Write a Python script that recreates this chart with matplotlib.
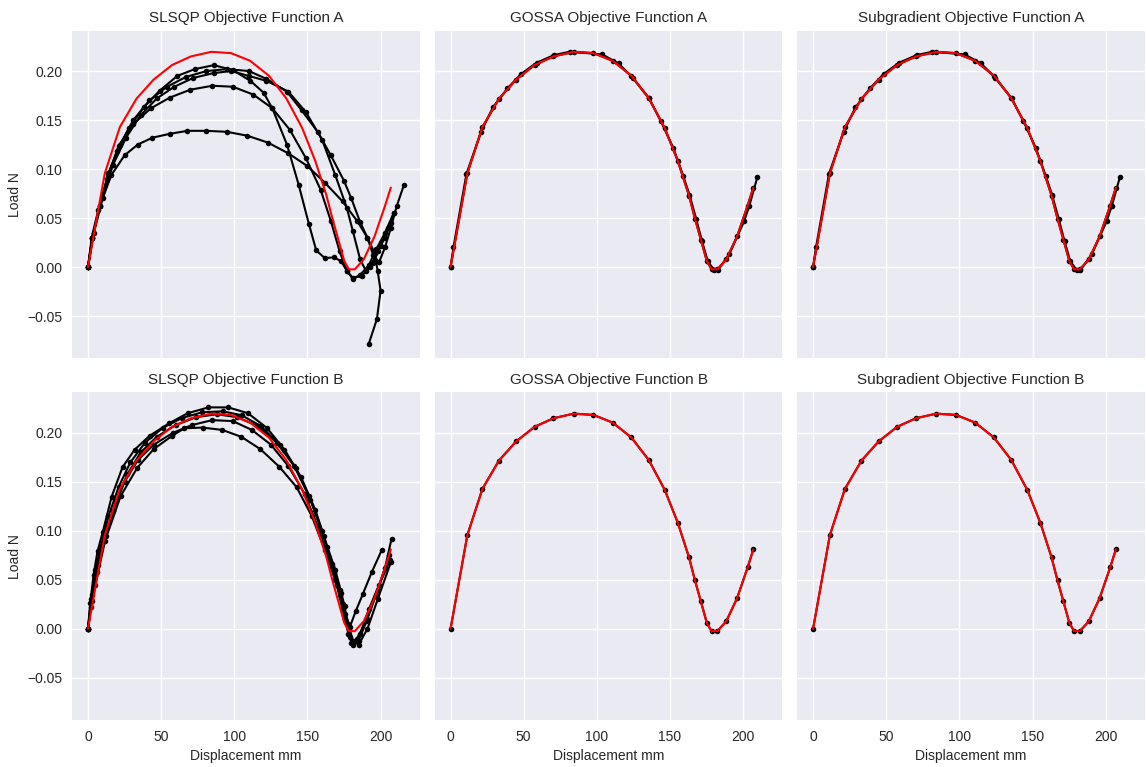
import numpy as np
import matplotlib
matplotlib.use("Agg")
import matplotlib.pyplot as plt

plt.style.use("seaborn-v0_8")

# target load-displacement curve (red)
ref_x = [0, 11.5, 21.8, 33.1, 44.8, 57.4, 70.3, 84.2, 97.7, 110.8, 123.6, 135.5,
         146.4, 155.4, 163.0, 167.1, 171.1, 175.2, 178.4, 182.4, 188.5, 195.9, 203.1, 207.0]
ref_y = [0, 0.0957, 0.1429, 0.1717, 0.1912, 0.2061, 0.2149, 0.2196, 0.2183, 0.2105, 0.1953, 0.1723,
         0.1419, 0.1081, 0.0730, 0.0494, 0.0281, 0.0061, -0.0023, -0.0023, 0.0078, 0.0314, 0.0628, 0.0811]

# SLSQP, objective function A
slsqp_a_x = [
    [0, 2.5, 7, 13, 20, 28, 38, 49, 61, 73, 86, 99, 111, 120, 126, 136, 144, 151, 156, 162,
     168, 173, 177, 181, 186, 192, 197, 203, 209],
    [0, 3, 8, 14, 22, 31, 42, 54, 67, 81, 95, 110, 122, 136, 146, 157, 166, 175, 180, 186,
     191, 195, 199, 203, 207, 211, 216],
    [0, 4, 10, 17, 26, 36, 47, 59, 72, 86, 98, 110, 122, 137, 149, 160, 169, 177, 181, 186,
     190, 195, 200, 205, 209],
    [0, 3, 8, 14, 21, 31, 43, 56, 70, 85, 99, 113, 126, 138, 149, 159, 166, 172, 177, 181,
     187, 193, 198, 203, 207],
    [0, 3, 8, 16, 25, 34, 44, 56, 68, 81, 95, 109, 123, 137, 150, 162, 174, 184, 191, 196,
     198, 200, 197.5, 192],
]
slsqp_a_y = [
    [0, 0.03, 0.058, 0.09, 0.118, 0.142, 0.163, 0.18, 0.195, 0.202, 0.206, 0.201, 0.19, 0.178,
     0.162, 0.125, 0.084, 0.044, 0.017, 0.009, 0.010, 0.006, -0.004, -0.012, -0.008, 0.002,
     0.018, 0.035, 0.055],
    [0, 0.03, 0.062, 0.096, 0.125, 0.15, 0.17, 0.184, 0.194, 0.2, 0.202, 0.2, 0.192, 0.179,
     0.16, 0.138, 0.114, 0.088, 0.07, 0.046, 0.03, 0.012, 0.005, 0.02, 0.04, 0.062, 0.084],
    [0, 0.035, 0.07, 0.104, 0.132, 0.155, 0.172, 0.184, 0.193, 0.198, 0.2, 0.195, 0.19, 0.179,
     0.158, 0.13, 0.094, 0.06, 0.037, 0.008, -0.004, 0.004, 0.022, 0.04, 0.055],
    [0, 0.03, 0.062, 0.095, 0.124, 0.146, 0.162, 0.173, 0.181, 0.185, 0.184, 0.176, 0.162,
     0.14, 0.111, 0.079, 0.047, 0.016, -0.004, -0.011, -0.009, 0.0, 0.016, 0.03, 0.045],
    [0, 0.03, 0.062, 0.094, 0.114, 0.125, 0.132, 0.136, 0.139, 0.139, 0.138, 0.134, 0.127,
     0.116, 0.103, 0.086, 0.067, 0.047, 0.03, 0.014, -0.004, -0.024, -0.053, -0.078],
]

# SLSQP, objective function B
slsqp_b_x = [
    [0, 1.5, 3.8, 6.5, 10.1, 16.2, 23.6, 32, 42.1, 55.7, 68.1, 82.3, 95.9, 109.4, 122.3,
     134.3, 145.6, 155.5, 163.6, 169.1, 173.1, 175.4, 177.7, 179.9, 184, 190, 197, 203, 207.5],
    [0, 2, 5, 9, 14, 21, 29, 39, 51, 64, 78, 92, 105, 118, 131, 142, 152, 161, 167, 172,
     176, 179, 183, 188, 194, 200.7],
    [0, 3, 7, 12, 19, 27, 36, 47, 60, 74, 88, 102, 116, 129, 141, 151, 160, 167, 172, 176,
     179, 182, 186, 192, 199, 206.6],
    [0, 2.5, 6, 11, 17, 25, 34, 45, 58, 71, 85, 99, 112, 125, 137, 148, 157, 164, 170, 174,
     178, 181, 185, 191, 198, 206],
    [0, 2, 5, 11.7, 22.3, 33.6, 44.9, 57.5, 65.9, 78.3, 91.8, 104.9, 117.8, 130.7, 142.6,
     153, 162, 169, 174, 178, 181, 185, 191, 198, 207],
]
slsqp_b_y = [
    [0, 0.026, 0.055, 0.079, 0.099, 0.135, 0.165, 0.183, 0.197, 0.21, 0.22, 0.226, 0.226,
     0.22, 0.205, 0.183, 0.155, 0.121, 0.084, 0.06, 0.037, 0.023, 0.003, -0.014, -0.01,
     0.008, 0.035, 0.062, 0.092],
    [0, 0.03, 0.06, 0.085, 0.115, 0.145, 0.17, 0.19, 0.205, 0.215, 0.221, 0.222, 0.218,
     0.207, 0.188, 0.164, 0.132, 0.095, 0.066, 0.04, 0.015, 0.002, 0.018, 0.036, 0.058, 0.08],
    [0, 0.035, 0.065, 0.095, 0.13, 0.158, 0.18, 0.196, 0.208, 0.216, 0.219, 0.216, 0.207,
     0.19, 0.166, 0.136, 0.1, 0.064, 0.035, 0.01, -0.008, -0.013, -0.005, 0.02, 0.045, 0.07],
    [0, 0.028, 0.058, 0.09, 0.12, 0.15, 0.172, 0.188, 0.2, 0.208, 0.213, 0.212, 0.203,
     0.188, 0.166, 0.138, 0.105, 0.074, 0.045, 0.02, -0.005, -0.016, -0.012, 0.01, 0.04, 0.075],
    [0, 0.022, 0.045, 0.09, 0.1355, 0.1642, 0.1834, 0.197, 0.2047, 0.2054, 0.203, 0.1959,
     0.1834, 0.1655, 0.1446, 0.115, 0.08, 0.05, 0.025, 0.005, -0.012, -0.016, 0.0, 0.03, 0.068],
]

# GOSSA / subgradient, objective function A (second run sampled at other positions)
fit_a_x = [ref_x,
           [0, 2.0, 10.9, 21.0, 29.0, 38.9, 48.2, 58.8, 70.8, 81.4, 103.6, 114.9, 124.4, 135.7,
            143.7, 152.3, 159.0, 163.3, 167.9, 171.9, 175.8, 180.3, 182.6, 190.5, 200.7,
            204.3, 209.7]]
fit_a_y = [ref_y,
           [0, 0.020, 0.0952, 0.1383, 0.163, 0.1823, 0.197, 0.2085, 0.2163, 0.2197, 0.217, 0.2078,
            0.1932, 0.1723, 0.1492, 0.1214, 0.0933, 0.074, 0.0492, 0.0264, 0.0061, -0.0034,
            -0.0034, 0.0129, 0.0468, 0.0628, 0.0916]]

# GOSSA / subgradient, objective function B
fit_b_x = [ref_x]
fit_b_y = [ref_y]

panels = [
    ("SLSQP Objective Function A", slsqp_a_x, slsqp_a_y),
    ("GOSSA Objective Function A", fit_a_x, fit_a_y),
    ("Subgradient Objective Function A", fit_a_x, fit_a_y),
    ("SLSQP Objective Function B", slsqp_b_x, slsqp_b_y),
    ("GOSSA Objective Function B", fit_b_x, fit_b_y),
    ("Subgradient Objective Function B", fit_b_x, fit_b_y),
]

fig, axes = plt.subplots(2, 3, figsize=(11.46, 7.67), sharex=True, sharey=True)
plt.subplots_adjust(left=0.063, right=0.999, top=0.96, bottom=0.061, wspace=0.043, hspace=0.104)
for ax, (title, xs, ys) in zip(axes.flat, panels):
    for x, y in zip(xs, ys):
        ax.plot(x, y, color="black", marker="o", markersize=4, linewidth=1.5)
    ax.plot(ref_x, ref_y, color="red", linewidth=1.5)
    ax.set_title(title, fontsize=11)
    ax.tick_params(labelsize=10)

for ax in axes[:, 0]:
    ax.set_ylabel("Load N", fontsize=10)
for ax in axes[1, :]:
    ax.set_xlabel("Displacement mm", fontsize=10)

plt.savefig("out.png", dpi=100)
